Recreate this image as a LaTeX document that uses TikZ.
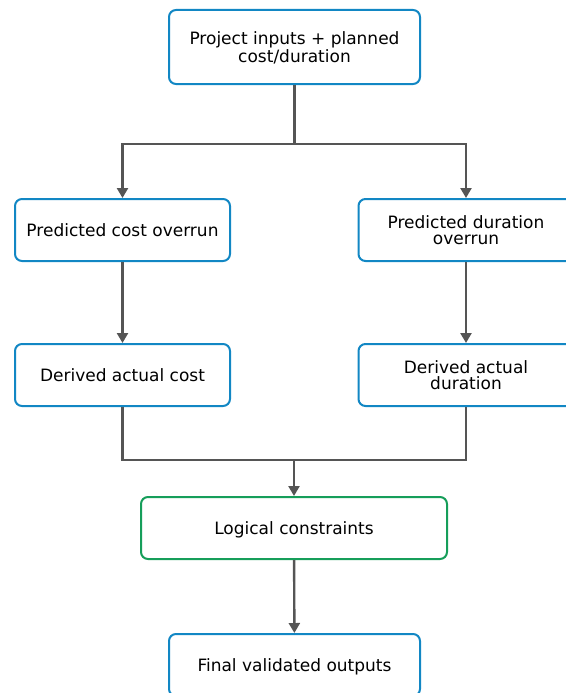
\documentclass[tikz,border=0pt]{standalone}
\usepackage{fontspec}
\setmainfont{DejaVu Sans}
\definecolor{BoxBlue}{RGB}{18,135,196}
\definecolor{BoxGreen}{RGB}{22,158,90}
\definecolor{LineGray}{RGB}{85,85,85}
\usetikzlibrary{arrows.meta, positioning}
\tikzset{
  stage/.style={draw=BoxBlue, line width=2pt, rounded corners=7pt, fill=white,
    align=center, inner sep=0pt, text depth=0pt, font=\fontsize{17}{16.5}\selectfont},
  checkbox/.style={stage, draw=BoxGreen},
  link/.style={draw=LineGray, line width=2.4pt},
  arrow/.style={link, -{Triangle[length=10pt,width=11pt]}}
}

\begin{document}
\begin{tikzpicture}[x=1pt, y=-1pt]
\useasboundingbox (0,0) rectangle (565,693);
% boxes
\node[stage, minimum width=251pt, minimum height=74pt] (inputs) at (294.5,47) {Project inputs + planned\\[1pt]cost/duration};
\node[stage, minimum width=215pt, minimum height=62pt] (costover) at (122.5,230) {Predicted cost overrun};
\node[stage, minimum width=215pt, minimum height=62pt] (durover) at (466,230) {Predicted duration\\overrun};
\node[stage, minimum width=215pt, minimum height=62pt] (actcost) at (122.5,375) {Derived actual cost};
\node[stage, minimum width=215pt, minimum height=62pt] (actdur) at (466,375) {Derived actual\\duration};
\node[checkbox, minimum width=306pt, minimum height=62pt] (logic) at (294,528) {Logical constraints};
\node[stage, minimum width=251pt, minimum height=62pt] (final) at (294.5,665) {Final validated outputs};
% split and merge points
\coordinate (split) at (294.5,144);
\coordinate (merge) at (294,460);
% connectors
\draw[arrow] (inputs.south) -- (split) -| (costover.north);
\draw[arrow] (split) -| (durover.north);
\draw[arrow] (costover) -- (actcost);
\draw[arrow] (durover) -- (actdur);
\draw[link] (actcost.south) |- (merge) -| (actdur.south);
\draw[arrow] (merge) -- (logic.north);
\draw[arrow] (logic) -- (final);
\end{tikzpicture}
\end{document}
